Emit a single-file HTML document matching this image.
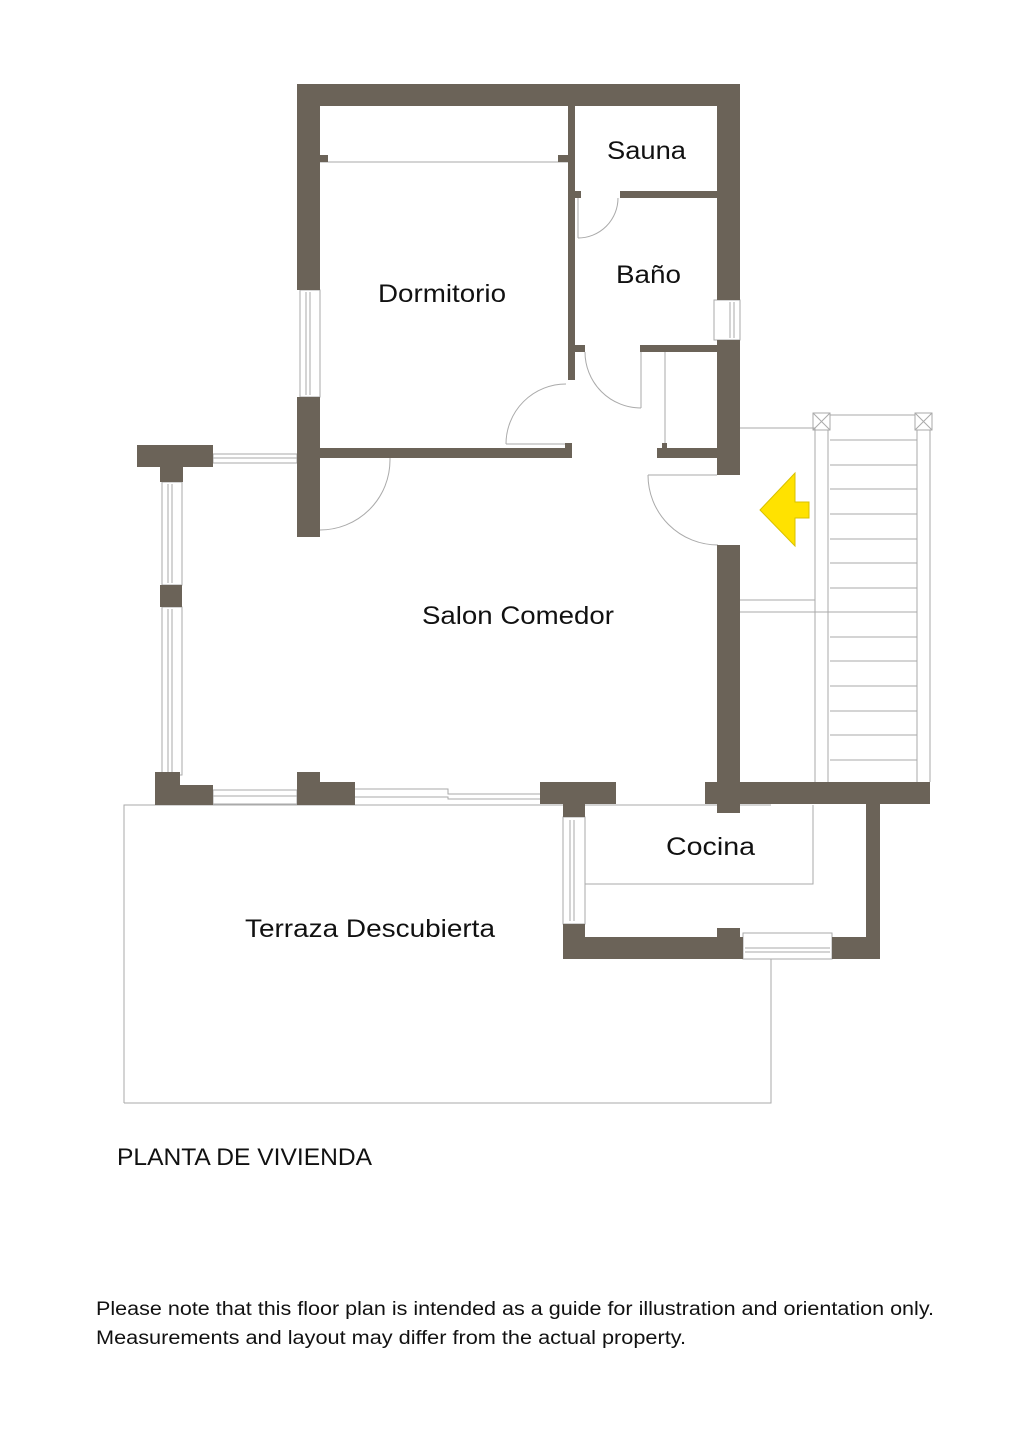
<!DOCTYPE html>
<html><head><meta charset="utf-8"><style>
html,body{margin:0;padding:0;background:#fff;}
svg{display:block;}
text{font-family:"Liberation Sans",sans-serif;fill:#111;}
</style></head><body>
<svg width="1024" height="1448" viewBox="0 0 1024 1448" xmlns="http://www.w3.org/2000/svg">
<rect width="1024" height="1448" fill="#fff"/>
<g fill="none" stroke="#aaa" stroke-width="1">
  <polyline points="124,1103 124,805 771,805"/>
  <polyline points="124,1103 771,1103 771,959"/>
  <line x1="320" y1="162" x2="568" y2="162"/>
  <path d="M578,238 A40,40 0 0 0 618,198"/><line x1="578" y1="198" x2="578" y2="238"/>
  <path d="M585,352 A56,56 0 0 0 641,408"/><line x1="641" y1="352" x2="641" y2="408"/>
  <path d="M506,444 A60,60 0 0 1 566,384"/><line x1="506" y1="444" x2="566" y2="444"/>
  <path d="M320,530 A70,70 0 0 0 390,460"/><line x1="390" y1="458" x2="390" y2="460"/>
  <path d="M648,475 A70,70 0 0 0 718,545"/><line x1="648" y1="475" x2="717" y2="475"/>
  <line x1="665" y1="352" x2="665" y2="448"/>
  <rect x="300" y="290" width="20" height="107"/><line x1="306" y1="292" x2="306" y2="395"/><line x1="310" y1="292" x2="310" y2="395"/>
  <rect x="714" y="300" width="26" height="40"/><line x1="730" y1="302" x2="730" y2="338"/><line x1="734" y1="302" x2="734" y2="338"/>
  <rect x="213" y="454" width="84" height="9"/><line x1="213" y1="458" x2="297" y2="458"/>
  <rect x="162" y="482" width="20" height="103"/><line x1="168" y1="484" x2="168" y2="583"/><line x1="172" y1="484" x2="172" y2="583"/>
  <rect x="162" y="607" width="20" height="168"/><line x1="168" y1="609" x2="168" y2="773"/><line x1="172" y1="609" x2="172" y2="773"/>
  <rect x="213" y="790" width="84" height="14"/><line x1="213" y1="796" x2="297" y2="796"/>
  <polyline points="355,789 448,789 448,794 540,794"/><polyline points="355,797 448,797 448,799 540,799"/>
  <rect x="563" y="817" width="22" height="107"/><line x1="570" y1="820" x2="570" y2="921"/><line x1="574" y1="820" x2="574" y2="921"/>
  <rect x="743" y="933" width="89" height="26"/><line x1="745" y1="948" x2="830" y2="948"/><line x1="745" y1="952" x2="830" y2="952"/>
  <polyline points="585,884 813,884 813,805"/>
  <polyline points="740,428 815,428 815,600 740,600"/>
  <line x1="740" y1="612" x2="917" y2="612"/>
  <line x1="830" y1="415" x2="915" y2="415"/>
  <line x1="815" y1="430" x2="815" y2="782"/><line x1="828" y1="430" x2="828" y2="782"/>
  <line x1="917" y1="430" x2="917" y2="782"/><line x1="930" y1="430" x2="930" y2="782"/>
  <rect x="813" y="413" width="17" height="17"/><path d="M813,413 L830,430 M830,413 L813,430"/>
  <rect x="915" y="413" width="17" height="17"/><path d="M915,413 L932,430 M932,413 L915,430"/>
  <path d="M830,440H917M830,465H917M830,489H917M830,514H917M830,539H917M830,563H917M830,588H917M830,637H917M830,661H917M830,686H917M830,711H917M830,735H917M830,760H917"/>
</g>
<g fill="#6b6358">
  <rect x="297" y="84" width="443" height="22"/>
  <rect x="297" y="84" width="23" height="206"/>
  <rect x="297" y="397" width="23" height="140"/>
  <rect x="717" y="84" width="23" height="216"/>
  <rect x="717" y="340" width="23" height="135"/>
  <rect x="717" y="545" width="23" height="245"/>
  <rect x="568" y="106" width="7" height="274"/>
  <rect x="620" y="191" width="97" height="7"/><rect x="575" y="191" width="6" height="7"/>
  <rect x="320" y="155" width="8" height="7"/><rect x="558" y="155" width="10" height="7"/>
  <rect x="640" y="345" width="77" height="7"/><rect x="575" y="345" width="10" height="7"/>
  <rect x="320" y="448" width="252" height="10"/><rect x="565" y="443" width="7" height="15"/>
  <rect x="657" y="448" width="60" height="10"/><rect x="662" y="443" width="5" height="5"/>
  <rect x="137" y="445" width="76" height="22"/><rect x="160" y="467" width="23" height="15"/>
  <rect x="160" y="585" width="22" height="22"/>
  <rect x="155" y="772" width="25" height="33"/><rect x="180" y="785" width="33" height="20"/>
  <rect x="297" y="772" width="23" height="33"/><rect x="320" y="782" width="35" height="23"/>
  <rect x="540" y="782" width="76" height="22"/><rect x="563" y="804" width="22" height="13"/>
  <rect x="563" y="924" width="22" height="35"/><rect x="585" y="937" width="158" height="22"/>
  <rect x="717" y="928" width="23" height="9"/>
  <rect x="832" y="937" width="48" height="22"/><rect x="866" y="804" width="14" height="155"/>
  <rect x="705" y="782" width="225" height="22"/><rect x="717" y="804" width="23" height="9"/>
</g>
<polygon points="760,510 795,473 795,502 809,502 809,518 795,518 795,546" fill="#ffe200" stroke="#d8c000" stroke-width="1"/>
<g font-size="25">
  <text x="607" y="159" textLength="79" lengthAdjust="spacingAndGlyphs">Sauna</text>
  <text x="616" y="283" textLength="65" lengthAdjust="spacingAndGlyphs">Baño</text>
  <text x="378" y="302" textLength="128" lengthAdjust="spacingAndGlyphs">Dormitorio</text>
  <text x="422" y="624" textLength="192" lengthAdjust="spacingAndGlyphs">Salon Comedor</text>
  <text x="666" y="855" textLength="89" lengthAdjust="spacingAndGlyphs">Cocina</text>
  <text x="245" y="937" textLength="250" lengthAdjust="spacingAndGlyphs">Terraza Descubierta</text>
</g>
<text x="117" y="1165" font-size="24" textLength="255" lengthAdjust="spacingAndGlyphs">PLANTA DE VIVIENDA</text>
<text x="96" y="1315" font-size="19" textLength="838" lengthAdjust="spacingAndGlyphs">Please note that this floor plan is intended as a guide for illustration and orientation only.</text>
<text x="96" y="1344" font-size="19" textLength="590" lengthAdjust="spacingAndGlyphs">Measurements and layout may differ from the actual property.</text>
</svg>
</body></html>
